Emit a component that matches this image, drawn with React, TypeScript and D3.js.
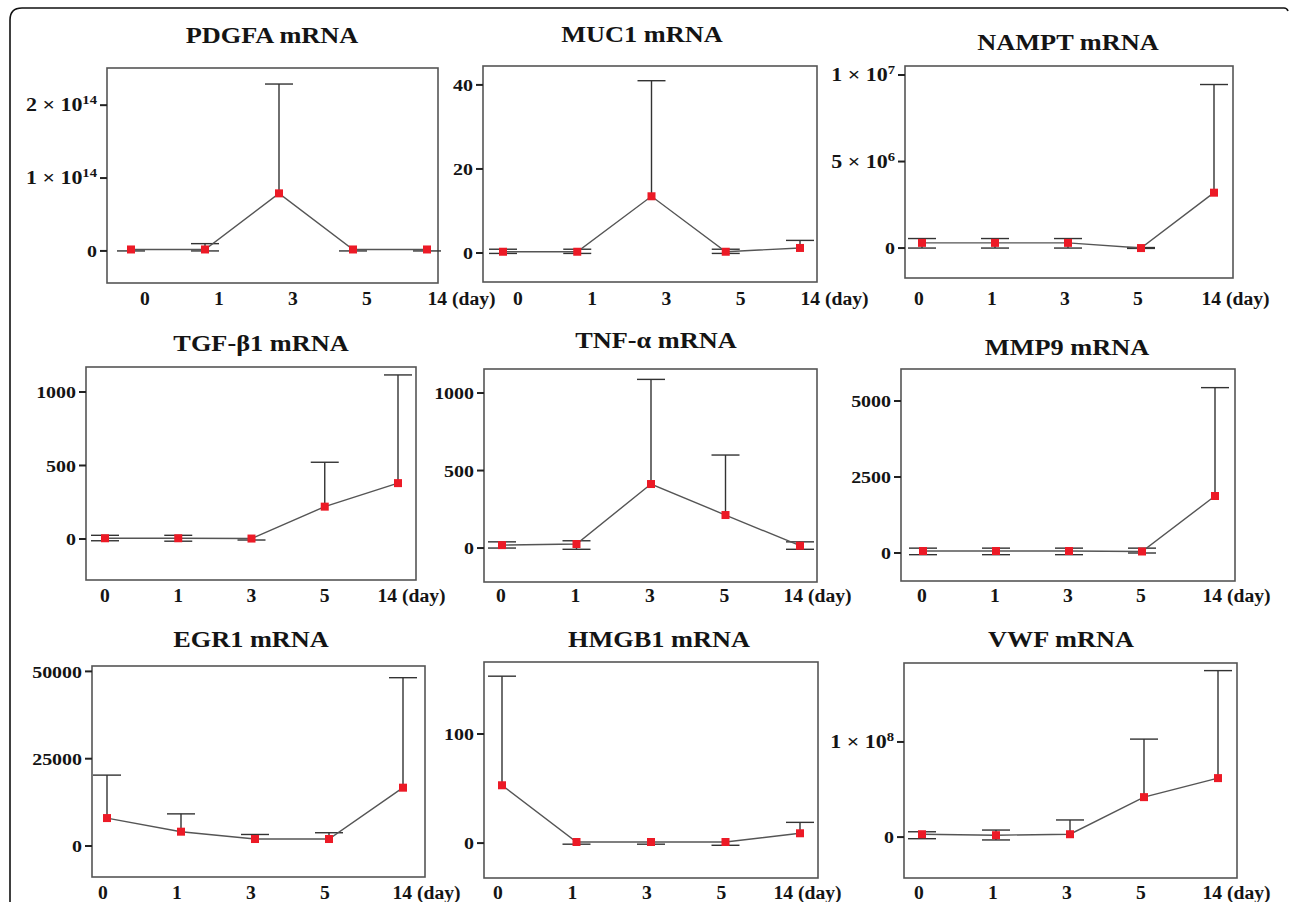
import * as d3 from 'd3';

const days = ['0', '1', '3', '5', '14'];

// mean, upper cap, lower cap for each gene (null = no cap drawn)
const pdgfaMean = [0.02e14, 0.02e14, 0.79e14, 0.02e14, 0.02e14];
const pdgfaUpper = [null, 0.1e14, 2.29e14, null, null];
const pdgfaLower = [0, 0, null, 0, 0];

const muc1Mean = [0.3, 0.3, 13.5, 0.3, 1.2];
const muc1Upper = [0.9, 0.9, 41, 0.9, 3.0];
const muc1Lower = [-0.1, -0.1, null, -0.1, null];

const namptMean = [0.3e6, 0.3e6, 0.3e6, 0.0, 3.2e6];
const namptUpper = [0.55e6, 0.55e6, 0.55e6, 0.03e6, 9.45e6];
const namptLower = [0.0, 0.0, 0.0, -0.02e6, null];

const tgfMean = [5, 5, 3, 220, 380];
const tgfUpper = [25, 25, null, 522, 1116];
const tgfLower = [-12, -15, -7, null, null];

const tnfMean = [19, 26, 413, 213, 15];
const tnfUpper = [40, 47, 1088, 600, 40];
const tnfLower = [0, -8, null, null, -8];

const mmp9Mean = [65, 65, 65, 50, 1875];
const mmp9Upper = [160, 160, 160, 160, 5440];
const mmp9Lower = [-55, -55, -55, 0, null];

const egr1Mean = [8000, 4100, 2000, 2000, 16700];
const egr1Upper = [20300, 9200, 3300, 3800, 48200];
const egr1Lower = [null, null, null, null, null];

const hmgb1Mean = [53, 1, 1, 1, 9];
const hmgb1Upper = [153, null, null, null, 19];
const hmgb1Lower = [null, -1, -1, -2, null];

const vwfMean = [3e6, 2e6, 3e6, 4.2e7, 6.2e7];
const vwfUpper = [5.6e6, 7.4e6, 1.8e7, 1.03e8, 1.75e8];
const vwfLower = [-1.7e6, -3e6, null, null, null];

const titles = [
  'PDGFA mRNA', 'MUC1 mRNA', 'NAMPT mRNA',
  'TGF-β1 mRNA', 'TNF-α mRNA', 'MMP9 mRNA',
  'EGR1 mRNA', 'HMGB1 mRNA', 'VWF mRNA',
];

const yTicks = [
  [0, 1e14, 2e14], [0, 20, 40], [0, 5e6, 1e7],
  [0, 500, 1000], [0, 500, 1000], [0, 2500, 5000],
  [0, 25000, 50000], [0, 100], [0, 1e8],
];
const sciAxis = [true, false, true, false, false, false, false, false, true];

interface Layout {
  left: number; right: number; top: number; bottom: number;
  yMin: number; yMax: number;
  px0: number; px1: number;
  titleX: number; titleY: number;
  labelY: number; labelDx: number; lastDx: number;
}

const layouts: Layout[] = [
  { left: 107, right: 438, top: 68, bottom: 283, yMin: -0.44e14, yMax: 2.51e14, px0: 131, px1: 427, titleX: 272, titleY: 43, labelY: 305, labelDx: 14, lastDx: 10 },
  { left: 483, right: 817, top: 66, bottom: 282, yMin: -6.9, yMax: 44.5, px0: 503, px1: 800, titleX: 642, titleY: 42, labelY: 305, labelDx: 15, lastDx: 10 },
  { left: 905, right: 1233, top: 66, bottom: 278, yMin: -1.73e6, yMax: 10.52e6, px0: 922, px1: 1214, titleX: 1068, titleY: 50, labelY: 305, labelDx: -3, lastDx: -3 },
  { left: 86, right: 416, top: 367, bottom: 580, yMin: -279, yMax: 1170, px0: 105, px1: 398, titleX: 261, titleY: 351, labelY: 602, labelDx: 0, lastDx: -11 },
  { left: 484, right: 817, top: 369, bottom: 582, yMin: -219, yMax: 1155, px0: 502, px1: 800, titleX: 656, titleY: 348, labelY: 602, labelDx: -1, lastDx: -7 },
  { left: 901, right: 1235, top: 369, bottom: 581, yMin: -921, yMax: 6053, px0: 923, px1: 1215, titleX: 1067, titleY: 355, labelY: 602, labelDx: -1, lastDx: -3 },
  { left: 92, right: 425, top: 666, bottom: 877, yMin: -8877, yMax: 51546, px0: 107, px1: 403, titleX: 251, titleY: 647, labelY: 899, labelDx: -4, lastDx: -1 },
  { left: 484, right: 818, top: 662, bottom: 878, yMin: -32, yMax: 166, px0: 502, px1: 800, titleX: 659, titleY: 647, labelY: 899, labelDx: -4, lastDx: -17 },
  { left: 904, right: 1237, top: 663, bottom: 878, yMin: -0.43e8, yMax: 1.83e8, px0: 922, px1: 1218, titleX: 1061, titleY: 647, labelY: 899, labelDx: -3, lastDx: -6 },
];

const means = [pdgfaMean, muc1Mean, namptMean, tgfMean, tnfMean, mmp9Mean, egr1Mean, hmgb1Mean, vwfMean];
const uppers = [pdgfaUpper, muc1Upper, namptUpper, tgfUpper, tnfUpper, mmp9Upper, egr1Upper, hmgb1Upper, vwfUpper];
const lowers = [pdgfaLower, muc1Lower, namptLower, tgfLower, tnfLower, mmp9Lower, egr1Lower, hmgb1Lower, vwfLower];

const FONT = "'Liberation Serif', 'Times New Roman', serif";
const TEXT = '#141414';
const CAP = 14;

function TickLabel({ v, sci }: { v: number; sci: boolean }) {
  if (!sci || v === 0) return <>{String(v)}</>;
  const e = Math.floor(Math.log10(v));
  const m = Math.round(v / Math.pow(10, e));
  return (
    <>
      {`${m} × 10`}
      <tspan fontSize={12} dy={-7}>{e}</tspan>
    </>
  );
}

function Panel({ idx }: { idx: number }) {
  const L = layouts[idx];
  const mean = means[idx];
  const up = uppers[idx];
  const lo = lowers[idx];

  const x = d3.scalePoint<string>().domain(days).range([L.px0, L.px1]);
  const y = d3.scaleLinear().domain([L.yMin, L.yMax]).range([L.bottom, L.top]);
  const path = d3
    .line<number>()
    .x((_d, i) => x(days[i]) ?? 0)
    .y((d) => y(d))(mean);

  return (
    <g>
      <text
        transform={`translate(${L.titleX},${L.titleY}) scale(1.17,1)`}
        textAnchor="middle"
        fontFamily={FONT}
        fontWeight="bold"
        fontSize={22.5}
        fill={TEXT}
      >
        {titles[idx]}
      </text>

      <rect
        x={L.left}
        y={L.top}
        width={L.right - L.left}
        height={L.bottom - L.top}
        fill="none"
        stroke="#555"
        strokeWidth={1.6}
      />

      {yTicks[idx].map((t) => (
        <g key={t}>
          <line x1={L.left - 7} x2={L.left} y1={y(t)} y2={y(t)} stroke="#222" strokeWidth={2} />
          <text
            transform={`translate(${L.left - 10},${y(t)}) scale(${sciAxis[idx] && t !== 0 ? 1.22 : 1.14},1)`}
            textAnchor="end"
            dy="0.35em"
            fontFamily={FONT}
            fontWeight="bold"
            fontSize={sciAxis[idx] && t !== 0 ? 18 : 17.5}
            fill={TEXT}
          >
            <TickLabel v={t} sci={sciAxis[idx]} />
          </text>
        </g>
      ))}

      {days.map((d, i) => {
        const cx = x(d) ?? 0;
        const last = i === days.length - 1;
        return (
          <text
            key={d}
            transform={`translate(${last ? cx + L.lastDx - 9.5 : cx + L.labelDx},${L.labelY}) scale(1.06,1)`}
            textAnchor={last ? 'start' : 'middle'}
            fontFamily={FONT}
            fontWeight="bold"
            fontSize={18.5}
            fill={TEXT}
          >
            {last ? `${d} (day)` : d}
          </text>
        );
      })}

      {mean.map((m, i) => {
        const cx = x(days[i]) ?? 0;
        const u = up[i];
        const l = lo[i];
        return (
          <g key={i} stroke="#333" strokeWidth={1.4}>
            {u !== null && (
              <>
                <line x1={cx} x2={cx} y1={y(m)} y2={y(u)} />
                <line x1={cx - CAP} x2={cx + CAP} y1={y(u)} y2={y(u)} />
              </>
            )}
            {l !== null && (
              <>
                <line x1={cx} x2={cx} y1={y(m)} y2={y(l)} />
                <line x1={cx - CAP} x2={cx + CAP} y1={y(l)} y2={y(l)} />
              </>
            )}
          </g>
        );
      })}

      <path d={path ?? ''} fill="none" stroke="#555" strokeWidth={1.4} />

      {mean.map((m, i) => (
        <rect
          key={i}
          x={(x(days[i]) ?? 0) - 4}
          y={y(m) - 4}
          width={8}
          height={8}
          fill="#ec1a26"
        />
      ))}
    </g>
  );
}

export default function App() {
  return (
    <svg
      width={1290}
      height={902}
      style={{ position: 'absolute', left: 0, top: 0, background: '#fff' }}
    >
      <rect width={1290} height={902} fill="#fff" />
      <path
        d="M10,902 V20 Q10,8 22,8 H1284 q3,0 4,3"
        fill="none"
        stroke="#111"
        strokeWidth={1.6}
      />
      {layouts.map((_l, i) => (
        <Panel key={i} idx={i} />
      ))}
    </svg>
  );
}
